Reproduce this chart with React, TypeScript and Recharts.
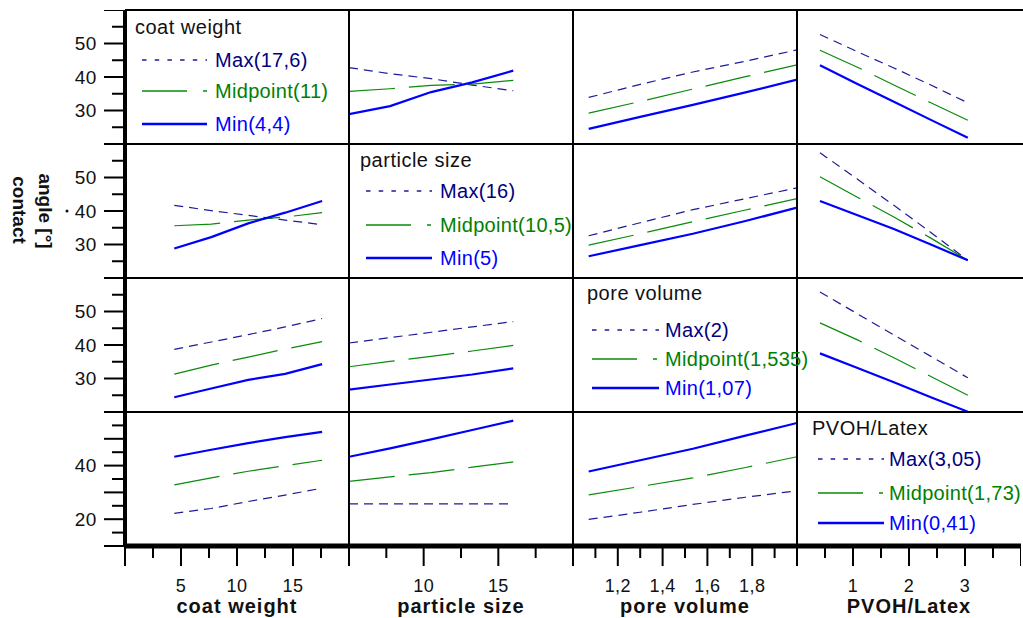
import React from "react";
import { LineChart, Line, XAxis, YAxis } from "recharts";

const FONT = "'Liberation Sans', Arial, sans-serif";

// rows = factor drawn as lines, columns = factor on the x axis
const factors = ["coat weight", "particle size", "pore volume", "PVOH/Latex"];

const coatWeightLevels = ["Max(17,6)", "Midpoint(11)", "Min(4,4)"];
const particleSizeLevels = ["Max(16)", "Midpoint(10,5)", "Min(5)"];
const poreVolumeLevels = ["Max(2)", "Midpoint(1,535)", "Min(1,07)"];
const pvohLevels = ["Max(3,05)", "Midpoint(1,73)", "Min(0,41)"];

// x positions where the curves were read
const coatWeightX = [4.4, 7.7, 11, 14.3, 17.6];
const particleSizeX = [5, 7.75, 10.5, 13.25, 16];
const poreVolumeX = [1.07, 1.3, 1.535, 1.77, 2.0];
const pvohX = [0.41, 1.07, 1.73, 2.39, 3.05];

// contact angle per panel, [Max, Midpoint, Min]
const cwByPs = [
  [42.8, 41.0, 39.5, 37.6, 35.9],
  [35.7, 36.5, 37.5, 37.9, 39.0],
  [28.9, 31.3, 35.5, 38.4, 41.9],
];
const cwByPv = [
  [33.9, 37.8, 41.5, 44.7, 48.1],
  [29.2, 32.7, 36.4, 40.1, 43.6],
  [24.5, 28.1, 31.7, 35.4, 39.2],
];
const cwByPvoh = [
  [52.7, 47.6, 42.7, 37.6, 32.3],
  [48.0, 43.0, 37.6, 32.3, 27.1],
  [43.5, 38.0, 32.6, 27.2, 21.9],
];
const psByCw = [
  [41.7, 40.1, 38.7, 37.3, 35.9],
  [35.6, 36.1, 37.3, 38.2, 39.5],
  [28.8, 32.2, 36.3, 39.5, 43.0],
];
const psByPv = [
  [32.6, 36.5, 40.4, 43.7, 46.9],
  [29.8, 33.2, 36.8, 40.3, 43.7],
  [26.5, 29.8, 33.2, 37.0, 41.0],
];
const psByPvoh = [
  [57.4, 49.6, 41.7, 33.6, 25.3],
  [50.2, 44.2, 38.2, 31.9, 25.3],
  [43.0, 38.8, 34.6, 30.0, 25.3],
];
const pvByCw = [
  [38.7, 40.9, 43.1, 45.4, 47.9],
  [31.3, 34.0, 36.4, 38.8, 41.0],
  [24.4, 27.0, 29.6, 31.4, 34.3],
];
const pvByPs = [
  [40.6, 42.2, 43.8, 45.4, 47.0],
  [33.5, 35.1, 36.6, 38.2, 39.9],
  [26.7, 28.2, 29.7, 31.2, 33.0],
];
const pvByPvoh = [
  [55.8, 49.4, 43.0, 36.6, 30.2],
  [46.6, 41.6, 36.2, 30.6, 25.0],
  [37.5, 33.2, 28.9, 24.4, 20.1],
];
const pvohByCw = [
  [22.2, 24.0, 26.6, 29.0, 31.6],
  [32.8, 35.4, 37.9, 40.0, 42.0],
  [43.3, 45.9, 48.4, 50.6, 52.6],
];
const pvohByPs = [
  [25.7, 25.7, 25.7, 25.7, 25.7],
  [34.1, 35.8, 37.4, 39.4, 41.4],
  [43.3, 46.4, 49.8, 53.3, 56.8],
];
const pvohByPv = [
  [19.9, 22.6, 25.5, 28.2, 30.6],
  [29.1, 32.2, 35.4, 39.3, 43.3],
  [37.8, 42.0, 46.3, 51.2, 55.9],
];

// x axes
const coatWeightTicks = [0, 2.5, 5, 7.5, 10, 12.5, 15, 17.5, 20];
const coatWeightMajor = [0, 5, 10, 15, 20];
const coatWeightLabels = [5, 10, 15];
const particleSizeTicks = [5, 7.5, 10, 12.5, 15, 17.5, 20];
const particleSizeMajor = [5, 10, 15, 20];
const particleSizeLabels = [10, 15];
const poreVolumeTicks = [1, 1.1, 1.2, 1.3, 1.4, 1.5, 1.6, 1.7, 1.8, 1.9, 2];
const poreVolumeMajor = [1, 1.2, 1.4, 1.6, 1.8, 2];
const poreVolumeLabels = [1.2, 1.4, 1.6, 1.8];
const pvohTicks = [0, 0.5, 1, 1.5, 2, 2.5, 3, 3.5, 4];
const pvohMajor = [0, 1, 2, 3, 4];
const pvohLabels = [1, 2, 3];

// y axes
const angleTicks = [20, 25, 30, 35, 40, 45, 50, 55, 60];
const angleLabels = [30, 40, 50];
const angleTicksLast = [10, 15, 20, 25, 30, 35, 40, 45, 50, 55, 60];
const angleLabelsLast = [20, 40];

const levels = [coatWeightLevels, particleSizeLevels, poreVolumeLevels, pvohLevels];
const xs = [coatWeightX, particleSizeX, poreVolumeX, pvohX];
const panels = [
  [null, cwByPs, cwByPv, cwByPvoh],
  [psByCw, null, psByPv, psByPvoh],
  [pvByCw, pvByPs, null, pvByPvoh],
  [pvohByCw, pvohByPs, pvohByPv, null],
];
const xAxes = [
  { domain: [0, 20], ticks: coatWeightTicks, major: coatWeightMajor, labels: coatWeightLabels },
  { domain: [5, 20], ticks: particleSizeTicks, major: particleSizeMajor, labels: particleSizeLabels },
  { domain: [1, 2], ticks: poreVolumeTicks, major: poreVolumeMajor, labels: poreVolumeLabels },
  { domain: [0, 4], ticks: pvohTicks, major: pvohMajor, labels: pvohLabels },
];

const LEFT = 125;
const TOP = 10;
const CW = 224;
const CH = 134;
const XAXIS_H = 72;

const lineStyle = [
  { stroke: "#1c1c96", width: 1.2, dash: "9 6" },
  { stroke: "#0a8a0a", width: 1.2, dash: "46 14" },
  { stroke: "#0000ff", width: 2.2, dash: undefined as string | undefined },
];
const labelColor = ["#000080", "#008000", "#0000ff"];
const legendDash = ["4.5 8.2", "45 16 4 100", undefined];

const legendPos = [
  { tx: 135, ty: 27, lx1: 142, lx2: 207, ys: [60, 91, 124], textX: 215 },
  { tx: 360, ty: 160, lx1: 366, lx2: 432, ys: [191, 225, 258], textX: 440 },
  { tx: 587, ty: 293, lx1: 592, lx2: 659, ys: [330, 359, 388], textX: 665 },
  { tx: 812, ty: 428, lx1: 818, lx2: 884, ys: [459, 493, 523], textX: 889 },
];

function YTick(props: any) {
  const { x, y, payload, labels } = props;
  const v = payload.value;
  const major = v % 10 === 0;
  return (
    <g>
      <line x1={x - (major ? 21 : 13)} x2={x} y1={y} y2={y} stroke="#000" strokeWidth={2} />
      {labels.includes(v) && (
        <text x={x - 28} y={y + 6.5} textAnchor="end" fontSize={19} letterSpacing={0.6} fontFamily={FONT} fill="#111">
          {v}
        </text>
      )}
    </g>
  );
}

function XTick(props: any) {
  const { x, y, payload, major, labels } = props;
  const v = payload.value;
  const isMajor = major.includes(v);
  return (
    <g>
      <line x1={x} x2={x} y1={y} y2={y + (isMajor ? 20 : 12)} stroke="#000" strokeWidth={2} />
      {labels.includes(v) && (
        <text x={x} y={y + 46} textAnchor="middle" fontSize={18} letterSpacing={0.4} fontFamily={FONT} fill="#111">
          {String(v).replace(".", ",")}
        </text>
      )}
    </g>
  );
}

function Panel({ r, c }: { r: number; c: number }) {
  const first = c === 0;
  const last = r === 3;
  const w = CW + (first ? LEFT : 0);
  const h = CH + (last ? XAXIS_H : 0);
  const ax = xAxes[c];
  const series = panels[r][c];
  return (
    <div style={{ position: "absolute", left: first ? 0 : LEFT + c * CW, top: TOP + r * CH }}>
      <LineChart width={w} height={h} margin={{ top: 0, right: 0, bottom: 0, left: 0 }}>
        <XAxis
          type="number"
          dataKey="x"
          domain={ax.domain}
          ticks={ax.ticks}
          interval={0}
          allowDataOverflow
          hide={!last}
          height={XAXIS_H}
          tickSize={0}
          tickMargin={0}
          axisLine={{ stroke: "#000", strokeWidth: 5 }}
          tick={<XTick major={ax.major} labels={ax.labels} />}
        />
        <YAxis
          type="number"
          domain={last ? [10, 60] : [20, 60]}
          ticks={last ? angleTicksLast : angleTicks}
          interval={0}
          allowDataOverflow
          hide={!first}
          width={LEFT}
          tickSize={0}
          tickMargin={0}
          axisLine={{ stroke: "#000", strokeWidth: 4 }}
          tick={<YTick labels={last ? angleLabelsLast : angleLabels} />}
        />
        {series &&
          series.map((vals, k) => (
            <Line
              key={k}
              data={xs[c].map((x, i) => ({ x, y: vals[i] }))}
              dataKey="y"
              type="linear"
              dot={false}
              activeDot={false}
              stroke={lineStyle[k].stroke}
              strokeWidth={lineStyle[k].width}
              strokeDasharray={lineStyle[k].dash}
              isAnimationActive={false}
            />
          ))}
      </LineChart>
    </div>
  );
}

export default function App() {
  const cells = [];
  for (let r = 0; r < 4; r++) for (let c = 0; c < 4; c++) cells.push(<Panel key={`${r}-${c}`} r={r} c={c} />);
  const bottom = TOP + 4 * CH;
  return (
    <div style={{ position: "absolute", left: 0, top: 0, width: 1023, height: 618, background: "#fff" }}>
      {cells}
      <svg width={1023} height={618} style={{ position: "absolute", left: 0, top: 0, pointerEvents: "none" }}>
        {[0, 1, 2, 3].map((r) => (
          <line key={"h" + r} x1={LEFT} x2={1023} y1={TOP + r * CH} y2={TOP + r * CH} stroke="#000" strokeWidth={2} />
        ))}
        {[1, 2, 3].map((c) => (
          <line key={"v" + c} x1={LEFT + c * CW} x2={LEFT + c * CW} y1={TOP} y2={bottom} stroke="#000" strokeWidth={2} />
        ))}
        {legendPos.map((p, r) => (
          <g key={"lg" + r} fontFamily={FONT}>
            <text x={p.tx} y={p.ty + 7} fontSize={20} letterSpacing={0.5} fill="#111">
              {factors[r]}
            </text>
            {levels[r].map((lab, k) => (
              <g key={k}>
                <line
                  x1={p.lx1}
                  x2={p.lx2}
                  y1={p.ys[k]}
                  y2={p.ys[k]}
                  stroke={lineStyle[k].stroke}
                  strokeWidth={lineStyle[k].width + 0.3}
                  strokeDasharray={legendDash[k]}
                />
                <text x={p.textX} y={p.ys[k] + 7} fontSize={20} letterSpacing={0.3} fill={labelColor[k]}>
                  {lab}
                </text>
              </g>
            ))}
          </g>
        ))}
        {factors.map((f, c) => (
          <text
            key={"xt" + c}
            x={LEFT + c * CW + CW / 2}
            y={613}
            textAnchor="middle"
            fontSize={20}
            fontWeight="bold"
            letterSpacing={1}
            fontFamily={FONT}
            fill="#111"
          >
            {f}
          </text>
        ))}
        <text
          transform="translate(45,211) rotate(90)"
          textAnchor="middle"
          dominantBaseline="central"
          fontSize={19}
          fontWeight="bold"
          fontFamily={FONT}
          fill="#111"
        >
          angle [°]
        </text>
        <text
          transform="translate(19,210) rotate(90)"
          textAnchor="middle"
          dominantBaseline="central"
          fontSize={19}
          fontWeight="bold"
          fontFamily={FONT}
          fill="#111"
        >
          contact
        </text>
        <circle cx={67} cy={211} r={1.5} fill="#111" />
      </svg>
    </div>
  );
}
